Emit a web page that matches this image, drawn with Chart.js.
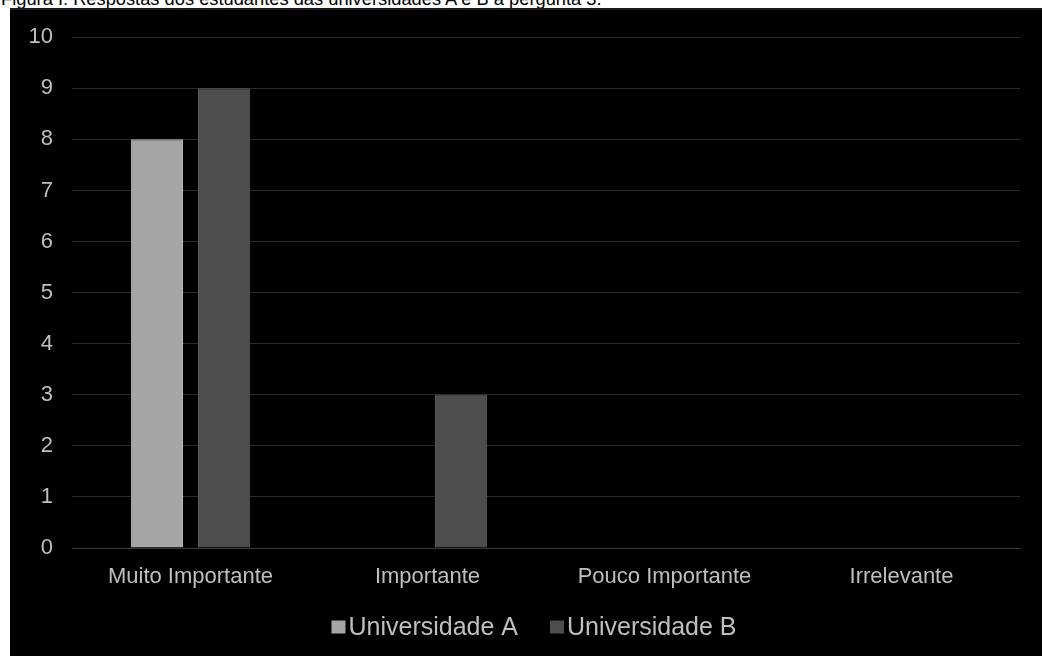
<!DOCTYPE html>
<html><head><meta charset="utf-8">
<script src="https://cdn.jsdelivr.net/npm/chart.js@4/dist/chart.umd.min.js"></script>
<style>
html,body{margin:0;padding:0;background:#fff;width:1042px;height:656px;overflow:hidden;position:relative;font-family:"Liberation Sans",Arial,sans-serif;}
#cap{position:absolute;left:1px;top:-12px;font-size:18.3px;color:#000;white-space:nowrap;}
#box{position:absolute;left:10px;top:8px;width:1032px;height:648px;background:#000;box-shadow:inset 0 2px 0 #1c1c1c;}
canvas{position:absolute;left:0;top:-3px;}
</style></head><body>
<div id="cap">Figura I: Respostas dos estudantes das universidades A e B à pergunta 3.</div>
<div id="box"><canvas id="c" width="1032" height="651"></canvas></div>
<script>
const categories = ["Muito Importante", "Importante", "Pouco Importante", "Irrelevante"];
const seriesNames = ["Universidade A", "Universidade B"];
const universidadeA = [8, 0, 0, 0];
const universidadeB = [9, 3, 0, 0];
const yTicks = [0,1,2,3,4,5,6,7,8,9,10];
const seriesColors = ['#a6a6a6', '#4d4d4d'];
const FONT = '"Liberation Sans", Arial, sans-serif';

const bottomLegend = {
  id: 'bottomLegend',
  afterDraw(chart) {
    const ctx = chart.ctx;
    ctx.save();
    ctx.font = '25px ' + FONT;
    ctx.textBaseline = 'middle';
    const box = 14, boxH = 13, gapText = 3, gapItem = 32;
    const items = chart.data.datasets.map(d => ({label: d.label, color: d.backgroundColor, w: ctx.measureText(d.label).width}));
    let total = 0;
    items.forEach((it, i) => { total += box + gapText + it.w + (i ? gapItem : 0); });
    let x = 524 - total / 2;
    const y = 622;
    items.forEach((it, i) => {
      if (i) x += gapItem;
      ctx.fillStyle = it.color;
      ctx.fillRect(x, y - boxH / 2, box, boxH);
      x += box + gapText;
      ctx.fillStyle = '#bfbfbf';
      ctx.fillText(it.label, x, y + 1);
      x += it.w;
    });
    ctx.restore();
  }
};

new Chart(document.getElementById('c'), {
  type: 'bar',
  data: {
    labels: categories,
    datasets: [
      {label: seriesNames[0], data: universidadeA, backgroundColor: seriesColors[0], borderColor: '#b8b8b8', borderWidth: 1},
      {label: seriesNames[1], data: universidadeB, backgroundColor: seriesColors[1], borderColor: '#5a5a5a', borderWidth: 1}
    ]
  },
  plugins: [bottomLegend],
  options: {
    responsive: false,
    animation: false,
    layout: {padding: {left: 0, right: 22, top: 26, bottom: 68}},
    datasets: {bar: {categoryPercentage: 0.565, barPercentage: 0.776}},
    plugins: {
      legend: {display: false},
      tooltip: {enabled: false}
    },
    scales: {
      x: {
        afterFit: (a) => { a.height = 40; },
        grid: {display: false, drawTicks: false},
        border: {display: true, color: '#3a3a3a'},
        ticks: {color: '#bfbfbf', font: {family: FONT, size: 22}, padding: 16, maxRotation: 0}
      },
      y: {
        min: 0, max: 10,
        afterBuildTicks: (a) => { a.ticks = yTicks.map(v => ({value: v})); },
        afterFit: (a) => { a.width = 62; },
        grid: {color: '#2a2a2a', drawTicks: false},
        border: {display: false},
        ticks: {color: '#bfbfbf', font: {family: FONT, size: 22}, padding: 19}
      }
    }
  }
});
</script>
</body></html>
